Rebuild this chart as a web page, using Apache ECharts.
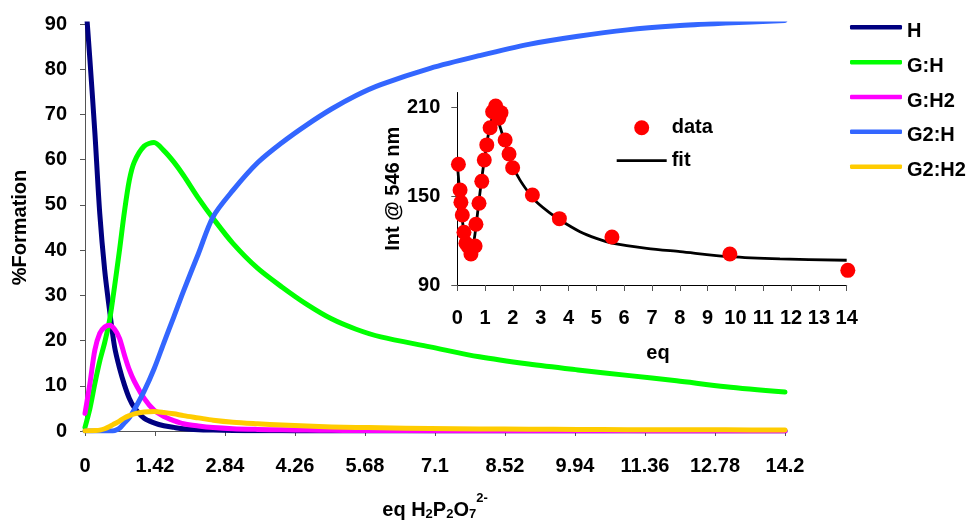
<!DOCTYPE html>
<html>
<head>
<meta charset="utf-8">
<script src="https://cdn.jsdelivr.net/npm/echarts@6/dist/echarts.min.js"></script>
<style>
  html, body { margin: 0; padding: 0; background: #fff; }
  #chart { width: 974px; height: 521px; }
</style>
</head>
<body>
<div id="chart"></div>
<script>
// Species distribution (% formation) versus equivalents of pyrophosphate
const eqX = [0, 0.1, 0.2, 0.3, 0.4, 0.5, 0.6, 0.7, 0.8, 0.9,
             1.0, 1.2, 1.4, 1.6, 1.8, 2.0, 2.3, 2.6, 3.0, 3.5,
             4.0, 4.5, 5.0, 5.5, 6.0, 7.0, 8.0, 9.0, 10, 11,
             12, 13, 14.2];
const pctH    = [97, 82, 66, 48, 35.5, 26.5, 18.6, 13.9, 10.2, 7.2,
                 5.2, 2.8, 1.8, 1.15, 0.8, 0.5, 0.3, 0.2, 0.1, 0.05,
                 0.03, 0.02, 0.01, 0, 0, 0, 0, 0, 0, 0,
                 0, 0, 0];
const pctGH   = [0.8, 5, 10.5, 15.5, 19.6, 24.6, 32, 40, 48.5, 55.5,
                 59.5, 63, 63.8, 62, 59.5, 56.5, 51.5, 47, 41.5, 36,
                 31.8, 28, 24.8, 22.5, 20.8, 18.6, 16.4, 14.8, 13.5, 12.3,
                 11.1, 9.8, 8.6];
const pctGH2  = [3.9, 10.5, 17.9, 21.6, 23, 23.4, 22.5, 20.5, 16.8, 13.5,
                 11, 7.2, 4.6, 3.2, 2.3, 1.6, 1.1, 0.75, 0.5, 0.35,
                 0.25, 0.2, 0.15, 0.12, 0.1, 0.07, 0.05, 0.04, 0.03, 0.03,
                 0.02, 0.02, 0.02];
const pctG2H  = [0, 0, 0, 0, 0, 0, 0.1, 0.6, 1.8, 3.0,
                 4.7, 8.8, 13.7, 19.5, 25.2, 31, 39.2, 47.4, 53.2, 59.3,
                 63.8, 67.7, 71.2, 74.2, 76.6, 80.2, 83, 85.5, 87.3, 88.7,
                 89.6, 90.2, 90.8];
const pctG2H2 = [0, 0.05, 0.1, 0.2, 0.5, 1.0, 1.6, 2.2, 2.9, 3.4,
                 3.8, 4.2, 4.3, 4.1, 3.8, 3.4, 2.9, 2.4, 1.95, 1.6,
                 1.3, 1.1, 0.9, 0.8, 0.7, 0.55, 0.45, 0.4, 0.35, 0.3,
                 0.28, 0.25, 0.22];

const speciesNames  = ['H', 'G:H', 'G:H2', 'G2:H', 'G2:H2'];
const speciesValues = [pctH, pctGH, pctGH2, pctG2H, pctG2H2];
const speciesColors = ['#000080', '#00ff00', '#ff00ff', '#3366ff', '#ffcc00'];

// Main axis ticks
const mainXMax = 14.2, mainXStep = 1.42;
const mainYMax = 90, mainYStep = 10;

// Inset: emission intensity at 546 nm, measured and fitted
const dataEq  = [0.04, 0.1, 0.13, 0.18, 0.24, 0.31, 0.4, 0.49, 0.64, 0.67,
                 0.78, 0.88, 0.97, 1.06, 1.18, 1.27, 1.38, 1.49, 1.57, 1.72,
                 1.86, 1.99, 2.7, 3.67, 5.56, 9.8, 14.04];
const dataInt = [171.5, 154.2, 145.9, 137.3, 125.6, 118.2, 115.9, 110.9, 116.3, 131.0,
                 145.2, 160, 174.4, 184.6, 196.2, 207, 210.9, 202.6, 206.4, 187.9,
                 178.5, 169.2, 150.8, 134.8, 122.4, 110.9, 99.9];
const fitEq   = [0, 0.1, 0.2, 0.3, 0.4, 0.5, 0.6, 0.7, 0.8, 0.9,
                 1.0, 1.1, 1.2, 1.3, 1.4, 1.5, 1.6, 1.8, 2.0, 2.25,
                 2.6, 2.85, 3.3, 3.69, 4.41, 5.0, 5.61, 6.81, 8.01, 9.81,
                 11.6, 14];
const fitInt  = [172, 150, 131, 119, 113, 113, 120, 134, 150, 165,
                 178, 190, 199, 204, 204, 199, 193, 181, 170, 161,
                 151.5, 146, 139, 133.9, 126, 121.5, 118.1, 114.8, 112.5, 109.1,
                 107.6, 106.7];
const insetYTicks = [90, 150, 210];

const FONT = '"Liberation Sans", Arial, Helvetica, sans-serif';
const bold20 = { fontFamily: FONT, fontWeight: 'bold', fontSize: 20, color: '#000', lineHeight: 20 };

const pairs = (xs, ys) => xs.map((x, i) => [x, ys[i]]);

const mainSeries = speciesNames.map((name, k) => ({
  name: name,
  type: 'line',
  xAxisIndex: 0,
  yAxisIndex: 0,
  data: pairs(eqX, speciesValues[k]),
  symbol: 'none',
  showSymbol: false,
  smooth: 0.3,
  clip: true,
  color: speciesColors[k],
  lineStyle: { width: 5, color: speciesColors[k], cap: 'round', join: 'round' },
  z: 2 + k
}));

const chart = echarts.init(document.getElementById('chart'), null, { renderer: 'canvas' });

chart.setOption({
  animation: false,
  backgroundColor: '#fff',
  grid: [
    { left: 85, top: 24, width: 700, height: 407, outerBoundsMode: 'none' },
    { left: 457.3, top: 92.5, width: 389.4, height: 192.5, outerBoundsMode: 'none' }
  ],
  legend: [
    {
      data: speciesNames.map(n => ({ name: n, icon: 'roundRect' })),
      orient: 'vertical',
      left: 850,
      top: 13.3,
      padding: 0,
      itemWidth: 52,
      itemHeight: 4.5,
      itemGap: 6.85,
      formatter: '{t|{name}}',
      textStyle: Object.assign({}, bold20, {
        rich: { t: Object.assign({}, bold20, { padding: [8, 0, 0, 0] }) }
      })
    },
    {
      data: [
        { name: 'data', icon: 'circle' },
        { name: 'fit', icon: 'path://M0,0L50,0L50,2.8L0,2.8Z' }
      ],
      orient: 'vertical',
      left: 616.7,
      top: 117.7,
      padding: 0,
      itemWidth: 50,
      itemHeight: 15,
      itemGap: 13,
      textStyle: Object.assign({}, bold20)
    }
  ],
  xAxis: [
    {
      gridIndex: 0,
      type: 'value',
      min: 0,
      max: mainXMax,
      interval: mainXStep,
      axisLine: { onZero: false, lineStyle: { color: '#555', width: 1 } },
      axisTick: { length: 5, lineStyle: { color: '#555' } },
      splitLine: { show: false },
      axisLabel: Object.assign({}, bold20, {
        margin: 25,
        formatter: v => String(+v.toFixed(2))
      }),
      name: '{m|eq H}{s|2}{m|P}{s|2}{m|O}{s|7}{p|2-}',
      nameLocation: 'middle',
      nameGap: 69,
      nameTextStyle: {
        rich: {
          m: { fontFamily: FONT, fontWeight: 'bold', fontSize: 20, color: '#000', lineHeight: 20 },
          s: { fontFamily: FONT, fontWeight: 'bold', fontSize: 13, color: '#000', lineHeight: 13, padding: [9.4, 0, 0, 0] },
          p: { fontFamily: FONT, fontWeight: 'bold', fontSize: 13, color: '#000', lineHeight: 13, padding: [0, 0, 23, 0] }
        }
      }
    },
    {
      gridIndex: 1,
      type: 'value',
      min: 0,
      max: 14,
      interval: 1,
      axisLine: { onZero: false, lineStyle: { color: '#000', width: 1 } },
      axisTick: { length: 6, lineStyle: { color: '#555' } },
      splitLine: { show: false },
      axisLabel: Object.assign({}, bold20, { margin: 23 }),
      name: 'eq',
      nameLocation: 'middle',
      nameGap: 58,
      nameTextStyle: Object.assign({}, bold20, { padding: [0, 0, 0, 12] })
    }
  ],
  yAxis: [
    {
      gridIndex: 0,
      type: 'value',
      min: 0,
      max: mainYMax,
      interval: mainYStep,
      axisLine: { show: true, onZero: false, lineStyle: { color: '#555', width: 1 } },
      axisTick: { show: true, length: 5, lineStyle: { color: '#555' } },
      splitLine: { show: false },
      axisLabel: Object.assign({}, bold20, { margin: 18 }),
      name: '%Formation',
      nameLocation: 'middle',
      nameGap: 55,
      nameRotate: 90,
      nameTextStyle: Object.assign({}, bold20)
    },
    {
      gridIndex: 1,
      type: 'value',
      min: 90,
      max: 220,
      interval: 60,
      axisLine: { show: true, onZero: false, lineStyle: { color: '#000', width: 1 } },
      axisTick: { show: true, length: 6, lineStyle: { color: '#555' }, customValues: insetYTicks },
      splitLine: { show: false },
      axisLabel: Object.assign({}, bold20, { margin: 17, customValues: insetYTicks }),
      name: 'Int @ 546 nm',
      nameLocation: 'middle',
      nameGap: 54,
      nameRotate: 90,
      nameTextStyle: Object.assign({}, bold20)
    }
  ],
  series: mainSeries.concat([
    {
      name: 'fit',
      type: 'line',
      xAxisIndex: 1,
      yAxisIndex: 1,
      data: pairs(fitEq, fitInt),
      symbol: 'none',
      showSymbol: false,
      smooth: 0.3,
      color: '#000',
      lineStyle: { width: 2.8, color: '#000' },
      z: 10
    },
    {
      name: 'data',
      type: 'scatter',
      xAxisIndex: 1,
      yAxisIndex: 1,
      data: pairs(dataEq, dataInt),
      symbol: 'circle',
      symbolSize: 15,
      clip: false,
      color: '#ff0000',
      itemStyle: { color: '#ff0000', opacity: 1 },
      z: 11
    }
  ])
});
</script>
</body>
</html>
